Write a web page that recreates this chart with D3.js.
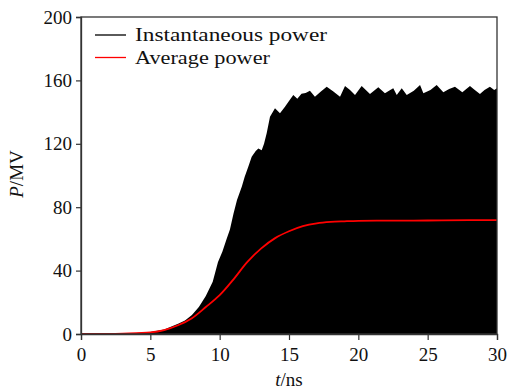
<!DOCTYPE html>
<html>
<head>
<meta charset="utf-8">
<script src="https://cdn.jsdelivr.net/npm/d3@7"></script>
<style>
  html, body { margin: 0; padding: 0; background: #fff; }
  svg { display: block; }
</style>
</head>
<body>
<svg id="chart" width="507" height="392"></svg>
<script>
// Peak envelope of the instantaneous power, t (ns) -> P (MW)
const envT = [0, 2, 4, 5, 6, 7, 7.5, 8, 8.5, 9, 9.5, 9.88, 10.2, 10.5, 10.74, 11, 11.25, 11.6, 11.8, 12.07, 12.31, 12.6, 12.79, 13.03, 13.2, 13.39, 13.63, 13.99, 14.35, 14.71, 15.0, 15.31, 15.6, 15.9, 16.2, 16.51, 16.87, 17.3, 17.72, 18.2, 18.68, 19.04, 19.4, 19.76, 20.24, 20.84, 21.44, 21.92, 22.3, 22.52, 22.77, 23.13, 23.49, 24.0, 24.45, 24.69, 25.2, 25.65, 26.13, 26.55, 26.97, 27.5, 28.05, 28.4, 28.77, 29.1, 29.49, 29.8, 30];
const envP = [0, 0.2, 0.6, 1.2, 2.8, 6.5, 8.5, 12, 17, 24, 33, 45.4, 52, 60, 66, 76, 84.5, 93, 99, 105.6, 111.9, 115.5, 117.1, 116, 120, 126.6, 137, 142.4, 139.2, 143.4, 147, 150.8, 148.5, 151.5, 152, 153.5, 149.7, 153, 156, 153, 149.7, 156.5, 154, 150.8, 156.5, 151.4, 155.6, 151.9, 154, 155, 150.8, 155, 150.8, 153.5, 157.1, 151.9, 154, 157.1, 152.5, 154.5, 156, 152.5, 156.5, 154, 151.4, 154, 156, 154, 155];

// Cycle-averaged power, t (ns) -> P (MW)
const avgT = [0, 3, 5, 6, 7, 8, 9, 10, 11, 12, 13, 14, 15, 16, 17, 18, 19, 20, 22, 25, 28, 30];
const avgP = [0, 0.3, 1.0, 2.5, 5.5, 10, 17, 24.5, 34.5, 45.5, 54, 60.5, 64.8, 68, 69.8, 70.7, 71.1, 71.4, 71.5, 71.6, 71.8, 71.8];

const xTicks = [0, 5, 10, 15, 20, 25, 30];
const yTicks = [0, 40, 80, 120, 160, 200];
const seriesNames = ["Instantaneous power", "Average power"];
const seriesColors = ["#000000", "#ff0000"];

const FONT = '"Liberation Serif"';
const FS = 19;

const margin = { top: 17, right: 10, bottom: 58, left: 81 };
const W = 507, H = 392;
const iw = W - margin.left - margin.right;
const ih = H - margin.top - margin.bottom;

const svg = d3.select("#chart");
const g = svg.append("g").attr("transform", `translate(${margin.left},${margin.top})`);

const x = d3.scaleLinear().domain([0, 30]).range([0, iw]);
const y = d3.scaleLinear().domain([0, 200]).range([ih, 0]);

const envData = envT.map((t, i) => ({ t, p: envP[i] }));
const avgData = avgT.map((t, i) => ({ t, p: avgP[i] }));

// Instantaneous power: oscillation fills everything under its envelope
g.append("path")
  .datum(envData)
  .attr("fill", seriesColors[0])
  .attr("d", d3.area().x(d => x(d.t)).y0(y(0)).y1(d => y(d.p)));

// Average power
g.append("path")
  .datum(avgData)
  .attr("fill", "none")
  .attr("stroke", seriesColors[1])
  .attr("stroke-width", 1.8)
  .attr("d", d3.line().x(d => x(d.t)).y(d => y(d.p)).curve(d3.curveCatmullRom));

// Frame
g.append("rect")
  .attr("x", 0).attr("y", 0).attr("width", iw).attr("height", ih)
  .attr("fill", "none").attr("stroke", "#333").attr("stroke-width", 1.3);

// Axes
const xAxis = g.append("g")
  .attr("transform", `translate(0,${ih})`)
  .call(d3.axisBottom(x).tickValues(xTicks).tickSize(6).tickPadding(8).tickFormat(d3.format("d")));
const yAxis = g.append("g")
  .call(d3.axisLeft(y).tickValues(yTicks).tickSize(5).tickPadding(4).tickFormat(d3.format("d")));

[xAxis, yAxis].forEach(a => {
  a.attr("font-family", FONT).attr("font-size", FS);
  a.select(".domain").attr("stroke", "#333").attr("stroke-width", 1.3);
  a.selectAll(".tick line").attr("stroke", "#333").attr("stroke-width", 1.2);
  a.selectAll(".tick text").attr("fill", "#111").attr("font-family", FONT);
});

// Axis titles
const yTitle = svg.append("text")
  .attr("transform", "translate(23,174) rotate(-90)")
  .attr("text-anchor", "middle")
  .attr("fill", "#111")
  .attr("font-family", FONT).attr("font-size", FS);
yTitle.append("tspan").attr("font-style", "italic").text("P");
yTitle.append("tspan").text("/MV");

const xTitle = svg.append("text")
  .attr("x", 289).attr("y", 386)
  .attr("text-anchor", "middle")
  .attr("fill", "#111")
  .attr("font-family", FONT).attr("font-size", FS);
xTitle.append("tspan").attr("font-style", "italic").text("t");
xTitle.append("tspan").text("/ns");

// Legend
const legendRows = [
  { name: seriesNames[0], color: seriesColors[0], y: 35, w: 192 },
  { name: seriesNames[1], color: seriesColors[1], y: 57.5, w: 135 }
];
const legend = svg.append("g");
legendRows.forEach(r => {
  legend.append("line")
    .attr("x1", 95).attr("x2", 126).attr("y1", r.y).attr("y2", r.y)
    .attr("stroke", r.color).attr("stroke-width", 1.3);
  legend.append("text")
    .attr("x", 135).attr("y", r.y + 6)
    .attr("textLength", r.w)
    .attr("lengthAdjust", "spacingAndGlyphs")
    .attr("fill", "#111")
    .attr("font-family", FONT).attr("font-size", FS)
    .text(r.name);
});
</script>
</body>
</html>
